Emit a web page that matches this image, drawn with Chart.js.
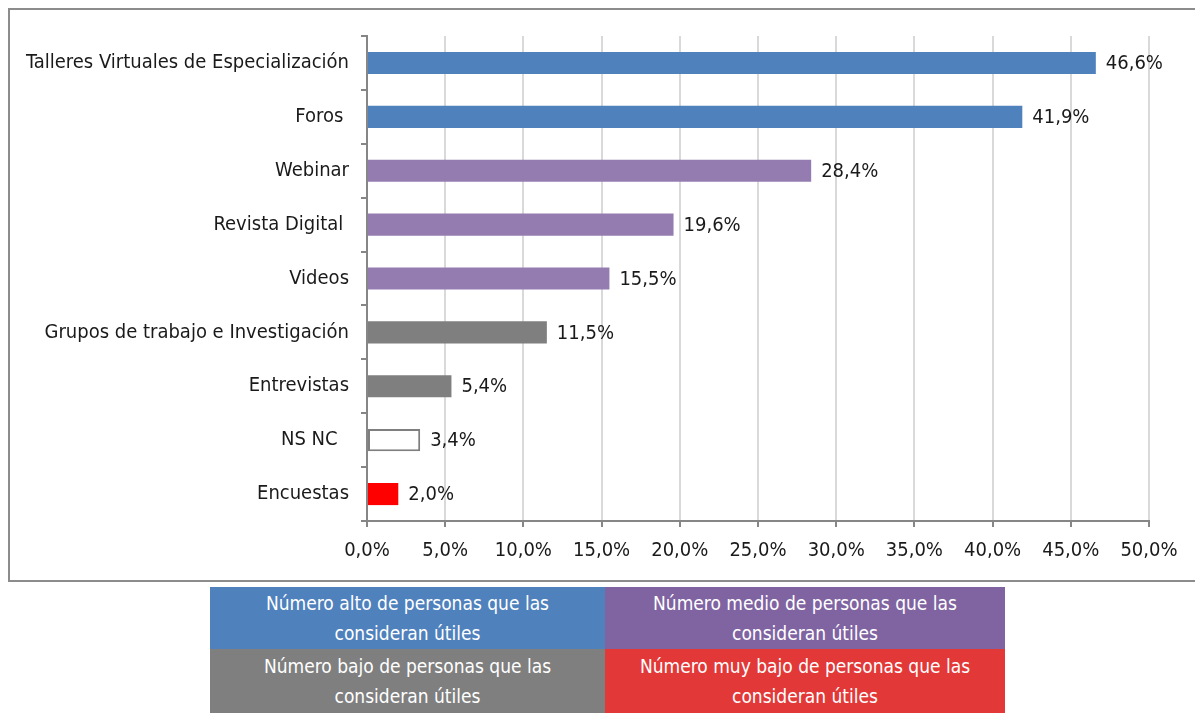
<!DOCTYPE html>
<html>
<head>
<meta charset="utf-8">
<script src="https://cdn.jsdelivr.net/npm/chart.js@4"></script>
<style>
  body { margin: 0; background: #fff; width: 1195px; height: 715px; position: relative; overflow: hidden; }
  .frame { position: absolute; left: 8px; top: 8px; width: 1200px; height: 574px; border: 2px solid #8c8c8c; box-sizing: border-box; pointer-events: none; }
  #chart { position: absolute; left: 0; top: 0; }
  .legend { position: absolute; left: 210px; top: 587px; width: 795px; display: grid; grid-template-columns: 395px 400px; grid-template-rows: 62px 64px; }
  .legend div { color: #fff; font-family: 'Liberation Sans Narrow', 'Arial Narrow', 'DejaVu Sans Condensed', sans-serif; font-size: 19px; line-height: 30px; text-align: center; display: flex; align-items: center; justify-content: center; }
</style>
</head>
<body>
<canvas id="chart" width="1195" height="585"></canvas>
<div class="frame"></div>
<div class="legend">
  <div style="background:#4f81bd">Número alto de personas que las<br>consideran útiles</div>
  <div style="background:#8064a2">Número medio de personas que las<br>consideran útiles</div>
  <div style="background:#7f7f7f">Número bajo de personas que las<br>consideran útiles</div>
  <div style="background:#e33838">Número muy bajo de personas que las<br>consideran útiles</div>
</div>
<script>
const categories = [
  'Talleres Virtuales de Especialización',
  'Foros ',
  'Webinar',
  'Revista Digital ',
  'Videos',
  'Grupos de trabajo e Investigación',
  'Entrevistas',
  'NS NC  ',
  'Encuestas'
]
const values = [46.6, 41.9, 28.4, 19.6, 15.5, 11.5, 5.4, 3.4, 2.0]
const barColors = ['#4f81bd', '#4f81bd', '#947cb0', '#947cb0', '#947cb0', '#7f7f7f', '#7f7f7f', '#ffffff', '#ff0000']
const barBorders = [0, 0, 0, 0, 0, 0, 0, 2, 0]
const xTicks = [0, 5, 10, 15, 20, 25, 30, 35, 40, 45, 50]

const FONT = "'Liberation Sans Narrow', 'Arial Narrow', 'DejaVu Sans Condensed', sans-serif"
const fmt = (v) => v.toFixed(1).replace('.', ',') + '%'

// value labels at the end of each bar
const valueLabels = {
  id: 'valueLabels',
  afterDatasetsDraw(chart) {
    const { ctx } = chart
    ctx.save()
    ctx.font = '20px ' + FONT
    ctx.fillStyle = '#1a1a1a'
    ctx.textAlign = 'left'
    ctx.textBaseline = 'middle'
    chart.getDatasetMeta(0).data.forEach((bar, i) => {
      ctx.fillText(fmt(values[i]), bar.x + 10, bar.y + 1)
    })
    ctx.restore()
  },
}

new Chart(document.getElementById('chart').getContext('2d'), {
  type: 'bar',
  data: {
    labels: categories,
    datasets: [
      {
        data: values,
        backgroundColor: barColors,
        borderColor: '#7f7f7f',
        borderWidth: barBorders,
        borderSkipped: false,
        categoryPercentage: 0.41,
        barPercentage: 1,
      },
    ],
  },
  options: {
    indexAxis: 'y',
    responsive: false,
    animation: false,
    layout: { padding: { top: 36, right: 46, left: 0, bottom: 0 } },
    plugins: {
      legend: { display: false },
      tooltip: { enabled: false },
    },
    scales: {
      x: {
        min: 0,
        max: 50,
        afterBuildTicks: (scale) => {
          scale.ticks = xTicks.map((v) => ({ value: v }))
        },
        afterFit: (scale) => {
          scale.height = 64
        },
        ticks: {
          callback: (v) => fmt(v),
          font: { family: FONT, size: 20 },
          color: '#1a1a1a',
          padding: 12,
          maxRotation: 0,
        },
        grid: { color: '#d9d9d9', lineWidth: 2, tickColor: '#868686', tickLength: 6 },
        border: { color: '#868686', width: 2 },
      },
      y: {
        afterFit: (scale) => {
          scale.width = 367
        },
        ticks: {
          font: { family: FONT, size: 20 },
          color: '#1a1a1a',
          padding: 12,
        },
        grid: { drawOnChartArea: false, offset: true, color: '#868686', tickLength: 6, lineWidth: 2 },
        border: { color: '#868686', width: 2 },
      },
    },
  },
  plugins: [valueLabels],
})
</script>
</body>
</html>
